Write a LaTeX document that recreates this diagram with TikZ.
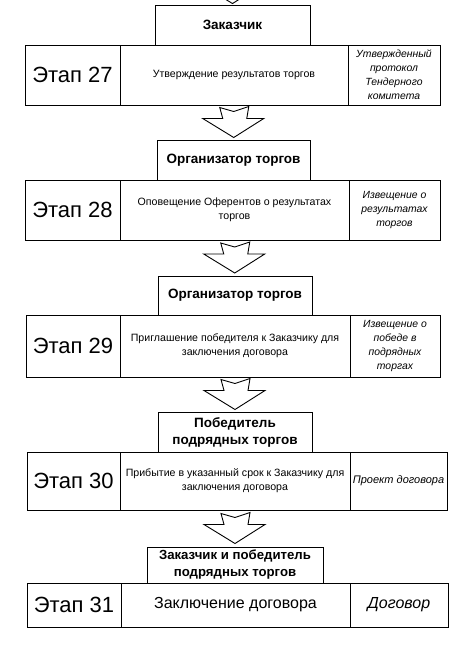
\documentclass[tikz,border=0pt]{standalone}
\usepackage{fontspec}
\setmainfont{Liberation Sans}
\usetikzlibrary{calc}
\begin{document}
\begin{tikzpicture}[x=1pt,y=-1pt,
  cell/.style={draw, line width=0.9pt, inner sep=1pt, align=center, anchor=center},
  stagebox/.style={cell, font=\fontsize{22}{24}\selectfont},
  midbox/.style={cell, font=\fontsize{10.6}{14}\selectfont},
  outbox/.style={cell, font=\fontsize{10.4}{14}\selectfont\itshape},
  headbox/.style={cell, font=\fontsize{13.5}{17}\selectfont\bfseries},
  blockarrow/.pic={\draw[line width=0.9pt, line join=miter, fill=white]
     (-14,-15) -- (0,-11) -- (15,-16) -- (13,-4) -- (30,-4) -- (0,15) -- (-31,-4) -- (-11,-4) -- cycle;}
]
\useasboundingbox (0,0) rectangle (475,657);
\fill[white] (0,0) rectangle (475,657);

% Stage 27
\node[headbox, minimum width=155pt, minimum height=40pt] (h27) at (232.5,25) {Заказчик};
\node[stagebox, minimum width=95pt, minimum height=60pt] (s27) at (72.5,75) {Этап 27};
\node[midbox, minimum width=228pt, minimum height=60pt] (m27) at (234,75) {Утверждение результатов торгов};
\node[outbox, minimum width=92pt, minimum height=60pt] (o27) at (394,75) {Утвержденный\\протокол\\Тендерного\\комитета};

% Stage 28
\node[headbox, minimum width=153pt, minimum height=40pt] (h28) at (233.5,160) {Организатор торгов};
\node[stagebox, minimum width=95pt, minimum height=60pt] (s28) at (72.5,210) {Этап 28};
\node[midbox, minimum width=229pt, minimum height=60pt] (m28) at (234.5,210) {Оповещение Оферентов о результатах\\торгов};
\node[outbox, minimum width=91pt, minimum height=60pt] (o28) at (394.5,210) {Извещение о\\результатах\\торгов};

% Stage 29
\node[headbox, minimum width=154pt, minimum height=39pt] (h29) at (235,295.5) {Организатор торгов};
\node[stagebox, minimum width=94pt, minimum height=62pt] (s29) at (73,346) {Этап 29};
\node[midbox, minimum width=230pt, minimum height=62pt] (m29) at (235,346) {Приглашение победителя к Заказчику для\\заключения договора};
\node[outbox, minimum width=90pt, minimum height=62pt] (o29) at (395,346) {Извещение о\\победе в\\подрядных\\торгах};

% Stage 30
\node[headbox, minimum width=154pt, minimum height=40pt] (h30) at (235,432) {Победитель\\подрядных торгов};
\node[stagebox, minimum width=93pt, minimum height=58pt] (s30) at (73.5,481) {Этап 30};
\node[midbox, minimum width=230pt, minimum height=58pt] (m30) at (235,481) {Прибытие в указанный срок к Заказчику для\\заключения договора};
\node[outbox, minimum width=97pt, minimum height=58pt, font=\fontsize{11}{14}\selectfont\itshape] (o30) at (398.5,481) {Проект договора};

% Stage 31
\node[headbox, minimum width=176pt, minimum height=36pt, font=\fontsize{13.2}{17}\selectfont\bfseries] (h31) at (235,565) {Заказчик и победитель\\подрядных торгов};
\node[stagebox, minimum width=94pt, minimum height=44pt] (s31) at (74,605) {Этап 31};
\node[midbox, minimum width=229pt, minimum height=44pt, font=\fontsize{16}{18}\selectfont] (m31) at (235.5,605) {Заключение договора};
\node[outbox, minimum width=98pt, minimum height=44pt, font=\fontsize{16}{18}\selectfont\itshape] (o31) at (399,605) {Договор};

% Block arrows between stages
\coordinate (a0) at ($(h27.north)+(0,-16)$);
\pic at (a0) {blockarrow};
\coordinate (a1) at ($(m27.south)!0.5!(h28.north)$);
\pic at (a1) {blockarrow};
\coordinate (a2) at ($(m28.south)!0.5!(h29.north)$);
\pic at (a2) {blockarrow};
\coordinate (a3) at ($(m29.south)!0.5!(h30.north)$);
\pic at (a3) {blockarrow};
\coordinate (a4) at ($(m30.south)!0.5!(h31.north)$);
\pic at (a4) {blockarrow};
\end{tikzpicture}
\end{document}
